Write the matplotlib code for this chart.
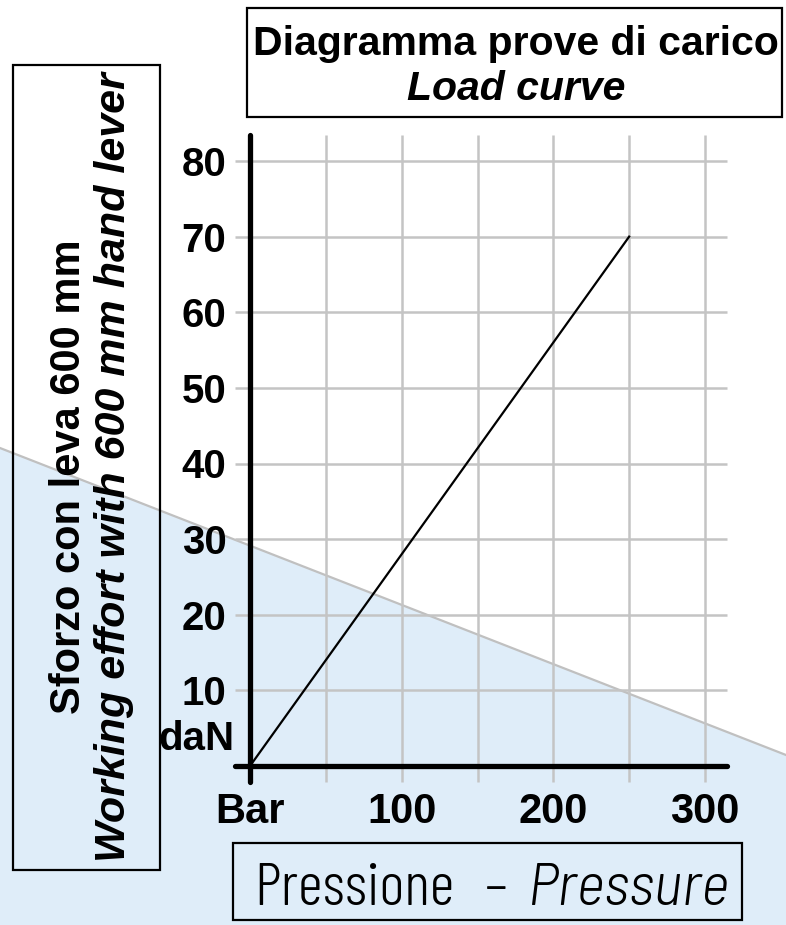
import matplotlib
matplotlib.use("Agg")
import matplotlib.pyplot as plt
from matplotlib.patches import Polygon, Rectangle
from matplotlib.lines import Line2D

# load test: pressure (bar) vs lever effort (daN)
pressione = [0, 250]
sforzo = [0, 70]

x_ticks = [0, 100, 200, 300]
x_labels = ["Bar", "100", "200", "300"]
x_grid = [50, 100, 150, 200, 250, 300]
y_ticks = [10, 20, 30, 40, 50, 60, 70, 80]
y_labels = [str(v) for v in y_ticks]

W, H = 786, 925
plt.rcParams["font.family"] = ["Liberation Sans", "DejaVu Sans"]

fig = plt.figure(figsize=(W / 100, H / 100), dpi=100)


def fx(px):
    return px / W


def fy(py):
    return 1 - py / H


# light blue band in the background
band = Polygon([(fx(0), fy(448)), (fx(W), fy(755)), (fx(W), 0), (0, 0)],
               closed=True, transform=fig.transFigure, facecolor="#dfedf9",
               edgecolor="none", zorder=-3)
fig.patches.append(band)
fig.lines.append(Line2D([fx(0), fx(W)], [fy(448), fy(755)], transform=fig.transFigure,
                        color="#c0c0c0", lw=1.6, zorder=-2))

ax = fig.add_axes([fx(250), fy(766), fx(705) - fx(250), fy(161) - fy(766)])
ax.set_xlim(0, 300)
ax.set_ylim(0, 80)
ax.patch.set_visible(False)
for s in ax.spines.values():
    s.set_visible(False)

# grid, drawn a bit past the axes on every side
grid_kw = dict(color="#c4c4c4", lw=1.8, clip_on=False, zorder=1)
ax.vlines(x_grid, -2.1, 83.5, **grid_kw)
ax.hlines(y_ticks, -9.6, 314.5, **grid_kw)

# main axes lines
axis_kw = dict(color="black", lw=3.8, solid_capstyle="round", clip_on=False, zorder=3)
ax.plot([0, 0], [-2.1, 83.5], **axis_kw)
ax.plot([-9.6, 314.5], [0, 0], **axis_kw)

ax.plot(pressione, sforzo, color="black", lw=1.6, zorder=4, clip_on=False)

ax.set_xticks(x_ticks, x_labels)
ax.set_yticks(y_ticks, y_labels)
ax.tick_params(length=0)
ax.tick_params(axis="x", pad=19, labelsize=30)
ax.tick_params(axis="y", pad=17, labelsize=29)
for lab in ax.get_xticklabels() + ax.get_yticklabels():
    lab.set_fontweight("bold")

ax.text(-10, 3.6, "daN", ha="right", va="center", fontsize=29, fontweight="bold")

# title box
fig.patches.append(Rectangle((fx(247), fy(117)), fx(782) - fx(247), fy(8) - fy(117),
                             transform=fig.transFigure, facecolor="white",
                             edgecolor="black", lw=1.6, zorder=2))
fig.text(fx(516), fy(55), "Diagramma prove di carico", ha="center", va="baseline",
         fontsize=29.5, fontweight="bold", zorder=3)
fig.text(fx(516), fy(100), "Load curve", ha="center", va="baseline",
         fontsize=29.5, fontweight="bold", style="italic", zorder=3)

# vertical axis caption box
fig.patches.append(Rectangle((fx(13), fy(870)), fx(160) - fx(13), fy(65) - fy(870),
                             transform=fig.transFigure, facecolor="none",
                             edgecolor="black", lw=1.6, zorder=2))
fig.text(fx(80), fy(477), "Sforzo con leva 600 mm", rotation=90,
         rotation_mode="anchor", ha="center", va="baseline", fontsize=30,
         fontweight="bold", zorder=3)
fig.text(fx(125), fy(467), "Working effort with 600 mm hand lever", rotation=90,
         rotation_mode="anchor", ha="center", va="baseline", fontsize=31,
         fontweight="bold", style="italic", zorder=3)

# horizontal axis caption box
fig.patches.append(Rectangle((fx(233), fy(920)), fx(742) - fx(233), fy(843) - fy(920),
                             transform=fig.transFigure, facecolor="none",
                             edgecolor="black", lw=1.6, zorder=2))
cap_kw = dict(va="baseline", fontsize=44, fontweight=300, zorder=3)
fig.text(fx(254), fy(905), "Pressione", ha="left", family="Barlow Condensed", **cap_kw)
fig.text(fx(496), fy(905), "\u2013", ha="center", family="Barlow Condensed", **cap_kw)
fig.text(fx(729), fy(905), "Pressure", ha="right", family="Barlow Semi Condensed",
         style="italic", **cap_kw)

fig.savefig("out.png", dpi=100)
